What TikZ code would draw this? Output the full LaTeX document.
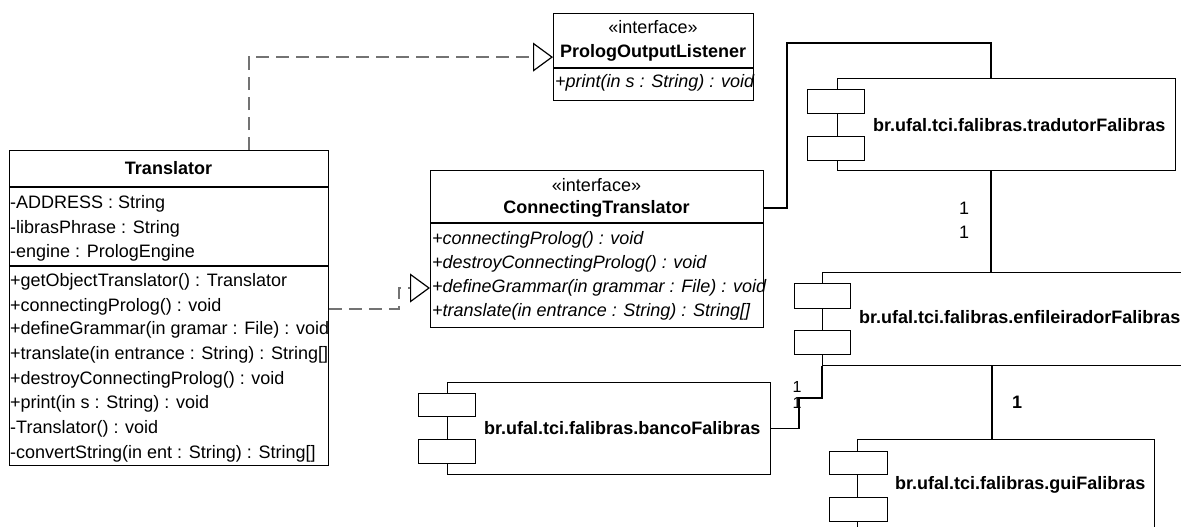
\documentclass[tikz,border=0pt]{standalone}
\usepackage{fontspec}
\setmainfont{Liberation Sans}
\usetikzlibrary{arrows.meta,calc}

\tikzset{
  box/.style={draw, line width=1.2pt, anchor=north west, inner sep=0pt},
  port/.style={draw, fill=white, line width=1.2pt, anchor=north west, inner sep=0pt},
  divider/.style={line width=1.2pt},
  member/.style={anchor=base west, inner sep=0pt, font=\fontsize{18}{22}\selectfont},
  opmember/.style={member, font=\fontsize{18}{22}\selectfont\itshape},
  clsname/.style={anchor=base, inner sep=0pt, font=\fontsize{18}{22}\selectfont\bfseries},
  stereo/.style={anchor=base, inner sep=0pt, font=\fontsize{18}{22}\selectfont},
  pkgname/.style={anchor=base west, inner sep=0pt, font=\fontsize{18}{22}\selectfont\bfseries},
  mult/.style={inner sep=0pt, font=\fontsize{18}{22}\selectfont},
  assoc/.style={line width=1.2pt},
  realize/.style={draw=black!55, line width=2pt, dash pattern=on 13pt off 7pt,
    -{Triangle[length=20pt, width=29pt, line width=1.2pt, color=black, fill=white]}}
}

\begin{document}
\begin{tikzpicture}[x=1pt, y=-1pt]
\clip (0,0) rectangle (1181,527);

% Translator class
\node[box, minimum width=319pt, minimum height=315pt] (translator) at (9,150) {};
\draw[divider] (translator.west |- 0,187) -- (translator.east |- 0,187);
\draw[divider] (translator.west |- 0,266) -- (translator.east |- 0,266);
\node[clsname] at (168.5,174) {Translator};
\node[member] at (10,208) {-ADDRESS : String};
\node[member] at (10,233) {-librasPhrase : String};
\node[member] at (10,257) {-engine : PrologEngine};
\node[member] at (10,286) {+getObjectTranslator() : Translator};
\node[member] at (10,311) {+connectingProlog() : void};
\node[member] at (10,334) {+defineGrammar(in gramar : File) : void};
\node[member] at (10,359) {+translate(in entrance : String) : String[]};
\node[member] at (10,384) {+destroyConnectingProlog() : void};
\node[member] at (10,408) {+print(in s : String) : void};
\node[member] at (10,433) {-Translator() : void};
\node[member] at (10,458) {-convertString(in ent : String) : String[]};

% interfaces
\node[box, minimum width=200pt, minimum height=87pt] (listener) at (553,13) {};
\draw[divider] (listener.west |- 0,68) -- (listener.east |- 0,68);
\node[stereo] at (653,34) {«interface»};
\node[clsname] at (653,58) {PrologOutputListener};
\node[opmember] at (555,88) {+print(in s : String) : void};

\node[box, minimum width=333pt, minimum height=157pt] (connecting) at (430,170) {};
\draw[divider] (connecting.west |- 0,223) -- (connecting.east |- 0,223);
\node[stereo] at (596.5,191) {«interface»};
\node[clsname] at (596.5,213) {ConnectingTranslator};
\node[opmember] at (432,244) {+connectingProlog() : void};
\node[opmember] at (432,268) {+destroyConnectingProlog() : void};
\node[opmember] at (432,292) {+defineGrammar(in grammar : File) : void};
\node[opmember] at (432,316) {+translate(in entrance : String) : String[]};

% components
\node[box, minimum width=338pt, minimum height=92pt] (tradutor) at (837,78) {};
\node[port, minimum width=57pt, minimum height=24pt] (tradutor-a) at (807,89) {};
\node[port, minimum width=57pt, minimum height=24pt] (tradutor-b) at (807,136) {};
\node[pkgname] at (873,131) {br.ufal.tci.falibras.tradutorFalibras};

\node[box, minimum width=380pt, minimum height=93pt] (enfileirador) at (822,272) {};
\node[port, minimum width=56pt, minimum height=25pt] (enfileirador-a) at (794,283) {};
\node[port, minimum width=56pt, minimum height=24pt] (enfileirador-b) at (794,330) {};
\node[pkgname] at (859,323) {br.ufal.tci.falibras.enfileiradorFalibras};

\node[box, minimum width=323pt, minimum height=92pt] (banco) at (447,382) {};
\node[port, minimum width=57pt, minimum height=23pt] (banco-a) at (418,393) {};
\node[port, minimum width=57pt, minimum height=24pt] (banco-b) at (418,439) {};
\node[pkgname] at (484,434) {br.ufal.tci.falibras.bancoFalibras};

\node[box, minimum width=297pt, minimum height=130pt] (gui) at (857,439) {};
\node[port, minimum width=58pt, minimum height=23pt] (gui-a) at (829,451) {};
\node[port, minimum width=58pt, minimum height=24pt] (gui-b) at (829,497) {};
\node[pkgname] at (895,489) {br.ufal.tci.falibras.guiFalibras};

% realizations
\draw[realize] (translator.north west) ++(240,0) |- (listener.west);
\draw[realize] (translator.east |- 0,309) -| (399,288) -- (connecting.west |- 0,288);

% associations
\draw[assoc] (connecting.east |- 0,208) -- (787,208) |- (991,43) -- (tradutor.north -| 991,0);
\draw[assoc] (tradutor.south -| 991,0) -- (enfileirador.north -| 991,0);
\node[mult] at (964,208) {1};
\node[mult] at (964,232) {1};
\draw[assoc] (enfileirador.south -| 992,0) -- (gui.north -| 992,0);
\node[mult, font=\fontsize{18}{22}\selectfont\bfseries] at (1017,402) {1};
\draw[assoc] (enfileirador.south west) |- (799,398) |- (banco.east);
\node[mult, font=\fontsize{16}{20}\selectfont] at (797,387) {1};
\node[mult, font=\fontsize{16}{20}\selectfont] at (797,403) {1};

\end{tikzpicture}
\end{document}
